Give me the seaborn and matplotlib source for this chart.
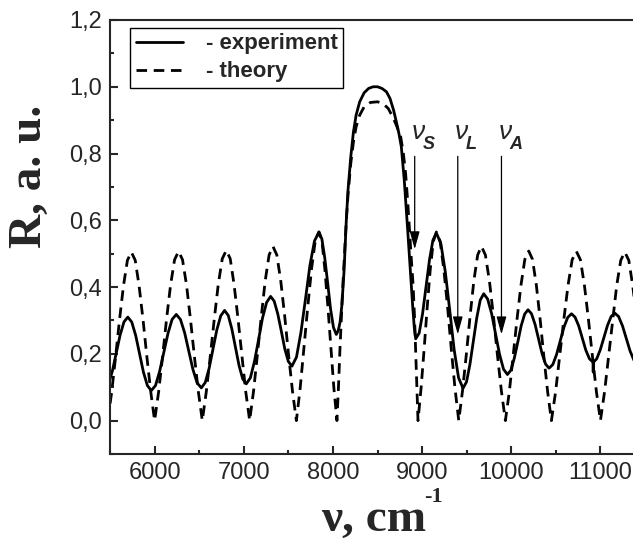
import seaborn as sns
import matplotlib.pyplot as plt
from matplotlib.ticker import MultipleLocator, FuncFormatter

# experiment (solid)
exp_x = [5440, 5483, 5527, 5570, 5613, 5657, 5700,
         5744, 5788, 5832, 5875, 5919, 5963,
         6010, 6056, 6103, 6150, 6196, 6243,
         6290, 6337, 6384, 6430, 6477, 6524,
         6568, 6611, 6655, 6698, 6742, 6785,
         6826, 6866, 6907, 6947, 6988, 7028,
         7074, 7119, 7165, 7210, 7256, 7301,
         7341, 7381, 7421, 7460, 7500, 7540,
         7591, 7641, 7692, 7742, 7793, 7843,
         7876, 7908, 7941, 7973, 8006, 8038,
         8060, 8080, 8100, 8125, 8150, 8169, 8200, 8230, 8260, 8300, 8350, 8400,
         8450, 8500, 8550, 8600, 8640, 8680, 8711, 8740, 8767, 8800, 8841, 8870,
         8895, 8912, 8928,
         8967, 9005, 9044, 9083, 9121, 9160,
         9210, 9260, 9310, 9359, 9409, 9459,
         9498, 9536, 9575, 9614, 9652, 9691,
         9735, 9780, 9824, 9868, 9913, 9957,
         9996, 10034, 10073, 10111, 10150, 10188,
         10227, 10267, 10306, 10345, 10385, 10424,
         10466, 10508, 10550, 10591, 10633, 10675,
         10715, 10756, 10796, 10836, 10877, 10917, 10919, 10921,
         10958, 10998, 11039, 11079, 11120, 11160,
         11203, 11247, 11290, 11333, 11377, 11420, 11460]
exp_y = [0.095, 0.109, 0.149, 0.203, 0.256, 0.296, 0.31,
         0.295, 0.255, 0.20, 0.145, 0.105, 0.09,
         0.105, 0.147, 0.204, 0.261, 0.303, 0.318,
         0.303, 0.263, 0.208, 0.153, 0.113, 0.098,
         0.114, 0.156, 0.214, 0.272, 0.314, 0.33,
         0.315, 0.275, 0.22, 0.165, 0.125, 0.11,
         0.128, 0.176, 0.241, 0.307, 0.354, 0.372,
         0.358, 0.32, 0.268, 0.215, 0.177, 0.163,
         0.19, 0.264, 0.364, 0.465, 0.538, 0.565,
         0.544, 0.488, 0.412, 0.335, 0.279, 0.258,
         0.27, 0.295, 0.345, 0.45, 0.60, 0.69, 0.79, 0.865, 0.915, 0.955, 0.982, 0.995,
         1.0, 1.0, 0.995, 0.985, 0.965, 0.93, 0.895, 0.86, 0.82, 0.72, 0.56, 0.44,
         0.34, 0.28, 0.245,
         0.262, 0.32, 0.401, 0.482, 0.54, 0.562,
         0.531, 0.446, 0.33, 0.213, 0.128, 0.097,
         0.116, 0.168, 0.239, 0.309, 0.361, 0.38,
         0.364, 0.32, 0.259, 0.199, 0.154, 0.138,
         0.151, 0.187, 0.235, 0.284, 0.319, 0.332,
         0.32, 0.288, 0.245, 0.201, 0.169, 0.157,
         0.168, 0.198, 0.239, 0.28, 0.309, 0.32,
         0.31, 0.284, 0.248, 0.211, 0.185, 0.175, 0.145, 0.175,
         0.185, 0.212, 0.249, 0.285, 0.312, 0.322,
         0.312, 0.284, 0.246, 0.208, 0.18, 0.17, 0.18]

# theory (dashed)
th_x = [5475, 5519, 5563, 5607, 5651, 5695, 5739,
        5783, 5826, 5870, 5913, 5957, 6000,
        6045, 6090, 6134, 6179, 6224, 6269,
        6313, 6358, 6402, 6446, 6491, 6535,
        6580, 6625, 6670, 6714, 6759, 6804,
        6848, 6891, 6935, 6979, 7022, 7066,
        7110, 7153, 7197, 7240, 7284, 7327,
        7371, 7415, 7459, 7502, 7546, 7590,
        7632, 7674, 7717, 7759, 7801, 7843,
        7877, 7910, 7944, 7978, 8011, 8045,
        8062, 8078, 8095, 8112, 8130, 8150, 8170, 8200, 8230, 8260, 8300, 8350, 8420,
        8500, 8560, 8620, 8670, 8711, 8760, 8790, 8815, 8840, 8861, 8880, 8898,
        8915, 8930, 8942, 8954,
        8988, 9023, 9057, 9091, 9126, 9160,
        9202, 9244, 9286, 9327, 9369, 9411,
        9453, 9496, 9538, 9580, 9623, 9665,
        9710, 9755, 9800, 9844, 9889, 9934,
        9978, 10021, 10065, 10109, 10152, 10196,
        10238, 10281, 10323, 10365, 10408, 10450,
        10497, 10543, 10590, 10637, 10683, 10730,
        10775, 10820, 10865, 10910, 10955, 11000,
        11046, 11091, 11137, 11182, 11228, 11273,
        11318, 11362, 11407, 11451, 11496, 11540]
th_y = [0.0, 0.086, 0.192, 0.303, 0.404, 0.48, 0.505,
        0.48, 0.404, 0.303, 0.192, 0.086, 0.0,
        0.086, 0.193, 0.304, 0.406, 0.482, 0.507,
        0.482, 0.406, 0.304, 0.193, 0.086, 0.0,
        0.087, 0.194, 0.306, 0.408, 0.485, 0.51,
        0.485, 0.408, 0.306, 0.194, 0.087, 0.0,
        0.089, 0.198, 0.313, 0.418, 0.496, 0.522,
        0.496, 0.418, 0.313, 0.198, 0.089, 0.0,
        0.096, 0.215, 0.339, 0.452, 0.537, 0.565,
        0.537, 0.452, 0.339, 0.215, 0.096, 0.0,
        0.10, 0.21, 0.31, 0.41, 0.50, 0.60, 0.68, 0.77, 0.835, 0.88, 0.915, 0.94, 0.953,
        0.955, 0.95, 0.935, 0.91, 0.885, 0.85, 0.80, 0.74, 0.65, 0.56, 0.48, 0.41,
        0.31, 0.19, 0.09, 0.0,
        0.096, 0.215, 0.339, 0.452, 0.537, 0.565,
        0.537, 0.452, 0.339, 0.215, 0.096, 0.0,
        0.089, 0.198, 0.313, 0.418, 0.496, 0.522,
        0.496, 0.418, 0.313, 0.198, 0.089, 0.0,
        0.086, 0.193, 0.305, 0.406, 0.483, 0.508,
        0.483, 0.406, 0.305, 0.193, 0.086, 0.0,
        0.086, 0.193, 0.304, 0.406, 0.482, 0.507,
        0.482, 0.406, 0.304, 0.193, 0.086, 0.0,
        0.086, 0.192, 0.303, 0.404, 0.48, 0.505,
        0.48, 0.404, 0.303, 0.192, 0.086, 0.0]

# marker lines nu_S, nu_L, nu_A
nu_names = ['S', 'L', 'A']
nu_pos = [8917, 9400, 9890]
nu_top = 0.80
nu_tip = [0.505, 0.25, 0.25]

sns.set_style('ticks')
plt.rcParams['font.family'] = ['Liberation Sans', 'DejaVu Sans']

fig = plt.figure(figsize=(6.33, 5.42), dpi=100)
ax = fig.add_axes([0.1738, 0.1624, 0.8452, 0.8007])

sns.lineplot(x=exp_x, y=exp_y, ax=ax, color='black', lw=2, solid_joinstyle='round',
             label='- experiment', estimator=None, sort=False)
sns.lineplot(x=th_x, y=th_y, ax=ax, color='black', lw=2, linestyle=(0, (3.8, 2.4)),
             dash_joinstyle='round', label='- theory', estimator=None, sort=False)

for name, x, tip in zip(nu_names, nu_pos, nu_tip):
    ax.annotate('', xy=(x, tip), xytext=(x, nu_top),
                arrowprops=dict(arrowstyle='-|>,head_width=0.25,head_length=0.9',
                                color='black', lw=0.9, mutation_scale=12))
    ax.annotate('ν', xy=(x, 0.845), xytext=(-3, 0), textcoords='offset pixels',
                fontsize=19, style='italic', va='baseline', ha='left')
    ax.annotate(name, xy=(x, 0.845), xytext=(8, -10), textcoords='offset pixels',
                fontsize=13, style='italic', fontweight='bold', va='baseline', ha='left')

ax.set_xlim(5500, 11500)
ax.set_ylim(-0.1, 1.2)
ax.xaxis.set_major_locator(MultipleLocator(1000))
ax.xaxis.set_minor_locator(MultipleLocator(500))
ax.yaxis.set_major_locator(MultipleLocator(0.2))
ax.yaxis.set_minor_locator(MultipleLocator(0.1))
ax.yaxis.set_major_formatter(FuncFormatter(lambda v, p: f'{v:.1f}'.replace('.', ',').replace('-0,0', '0,0')))
ax.tick_params(which='both', direction='in', width=1.5, labelsize=17)
ax.tick_params(which='major', length=6, pad=6)
ax.tick_params(which='minor', length=3)
for s in ax.spines.values():
    s.set_linewidth(1.5)

ax.set_ylabel('R, a. u.', fontsize=34, fontweight='bold', family='Liberation Serif')
ax.yaxis.set_label_coords(-0.11, 0.64)
ax.set_xlabel('ν, cm', fontsize=34, fontweight='bold', family='Liberation Serif')
ax.xaxis.label.set_verticalalignment('baseline')
ax.xaxis.set_label_coords(0.492, -0.178)
ax.text(0.588, -0.077, '-1', transform=ax.transAxes, fontsize=16, fontweight='bold',
        family='Liberation Serif', ha='left', va='top')

leg = ax.legend(loc='upper left', bbox_to_anchor=(0.038, 0.982), fancybox=False,
                edgecolor='black', framealpha=1, prop={'weight': 'bold', 'size': 16},
                handlelength=2.1, borderaxespad=0, borderpad=0.25, labelspacing=0.32,
                handletextpad=1.05)
leg.get_frame().set_linewidth(1.0)

fig.savefig('out.png', dpi=100)
